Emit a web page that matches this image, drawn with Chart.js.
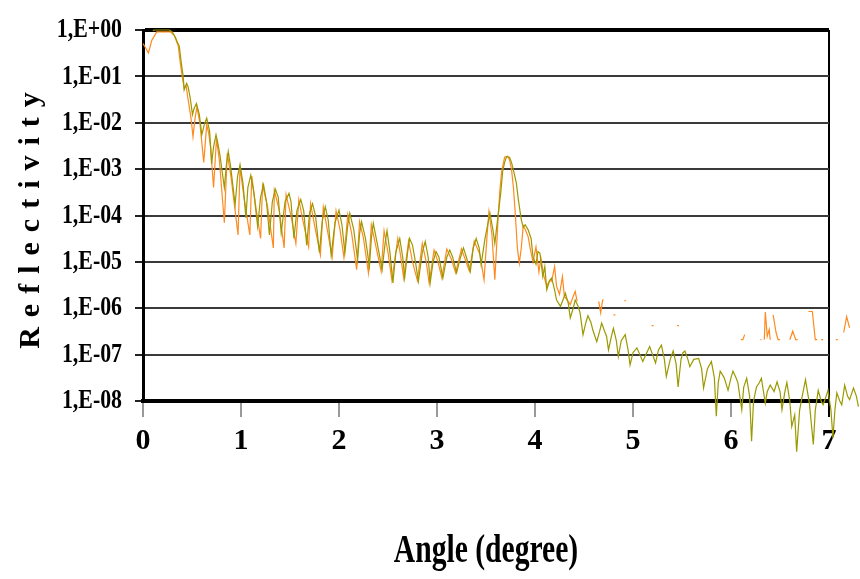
<!DOCTYPE html>
<html>
<head>
<meta charset="utf-8">
<title>Reflectivity vs angle</title>
<script src="https://cdn.jsdelivr.net/npm/chart.js@4/dist/chart.umd.min.js"></script>
<style>
  html, body { margin: 0; padding: 0; background: #fff; }
  #chart { display: block; }
</style>
</head>
<body>
<canvas id="chart" width="860" height="579"></canvas>
<script>
// --- Data ---

// Olive curve (drawn on top)
const oliveAngle = [
    0.10, 0.12, 0.27, 0.30, 0.33, 0.35, 0.37, 0.39,
    0.41, 0.42, 0.445, 0.46, 0.48, 0.505, 0.52, 0.545,
    0.575, 0.60, 0.625, 0.65, 0.68, 0.70, 0.72, 0.745,
    0.765, 0.785, 0.83, 0.85, 0.87, 0.895, 0.94, 0.965,
    0.99, 1.02, 1.05, 1.07, 1.10, 1.13, 1.17, 1.20,
    1.23, 1.26, 1.29, 1.32, 1.35, 1.38, 1.41, 1.45,
    1.49, 1.51, 1.54, 1.57, 1.61, 1.64, 1.67, 1.70,
    1.73, 1.76, 1.80, 1.83, 1.86, 1.89, 1.92, 1.96,
    2.00, 2.03, 2.06, 2.09, 2.11, 2.15, 2.19, 2.21,
    2.23, 2.27, 2.31, 2.33, 2.35, 2.39, 2.44, 2.47,
    2.49, 2.52, 2.55, 2.58, 2.62, 2.65, 2.67, 2.70,
    2.72, 2.75, 2.78, 2.81, 2.85, 2.88, 2.91, 2.93,
    2.96, 2.99, 3.02, 3.06, 3.10, 3.13, 3.16, 3.20,
    3.24, 3.27, 3.30, 3.34, 3.37, 3.40, 3.43, 3.45,
    3.49, 3.54, 3.57, 3.59, 3.62, 3.65, 3.67, 3.69,
    3.71, 3.74, 3.76, 3.78, 3.81, 3.83, 3.86, 3.88,
    3.90, 3.93, 3.96, 3.98, 4.01, 4.03, 4.05, 4.08,
    4.10, 4.12, 4.15, 4.17, 4.20, 4.22, 4.26, 4.29,
    4.31, 4.34, 4.36, 4.39, 4.41, 4.44, 4.46, 4.49,
    4.52, 4.54, 4.57, 4.59, 4.63, 4.66, 4.68, 4.71,
    4.73, 4.75, 4.78, 4.80, 4.83, 4.85, 4.88, 4.92,
    4.95, 4.97, 5.00, 5.04, 5.07, 5.10, 5.14, 5.17,
    5.20, 5.23, 5.26, 5.29, 5.32, 5.34, 5.38, 5.41,
    5.44, 5.46, 5.49, 5.51, 5.53, 5.56, 5.58, 5.62,
    5.67, 5.70, 5.72, 5.76, 5.80, 5.83, 5.85, 5.87,
    5.89, 5.93, 5.97, 6.00, 6.02, 6.05, 6.07, 6.11,
    6.13, 6.16, 6.19, 6.21, 6.23, 6.26, 6.29, 6.31,
    6.35, 6.37, 6.40, 6.44, 6.47, 6.50, 6.52, 6.55,
    6.57, 6.60, 6.62, 6.65, 6.67, 6.70, 6.72, 6.76,
    6.78, 6.80, 6.82, 6.84, 6.86, 6.89, 6.92, 6.94,
    6.97, 6.99, 7.02, 7.04, 7.06, 7.08, 7.11, 7.13,
    7.16, 7.19, 7.21, 7.25, 7.28, 7.30,
];
const oliveRefl = [
    0.97, 1.0, 1.0, 0.9, 0.7, 0.55, 0.45, 0.2,
    0.1, 0.051, 0.071, 0.06, 0.036, 0.015, 0.02, 0.026,
    0.015, 0.0055, 0.009, 0.0126, 0.0065, 0.0013, 0.003, 0.0055,
    0.0035, 0.002, 4e-4, 1.2e-3, 2.4e-3, 1.1e-3, 1.7e-4, 7e-4,
    1.26e-3, 5e-4, 9e-5, 4e-4, 7.4e-4, 3.2e-4, 5.8e-5, 2.5e-4,
    4.6e-4, 2e-4, 3.8e-5, 2e-4, 3.7e-4, 2.5e-4, 4.2e-5, 2e-4,
    3e-4, 2e-4, 3.2e-5, 1.26e-4, 2.2e-4, 1.26e-4, 2.3e-5, 1.12e-4,
    1.8e-4, 1e-4, 1.6e-5, 7.9e-5, 1.55e-4, 7.9e-5, 1.4e-5, 7.1e-5,
    1.3e-4, 6.3e-5, 1.55e-5, 6.3e-5, 1.12e-4, 5e-5, 1.1e-5, 4e-5,
    7.4e-5, 3.2e-5, 7.9e-6, 3.2e-5, 6.8e-5, 2.5e-5, 6.8e-6, 2.5e-5,
    4.7e-5, 1.6e-5, 3.5e-6, 1.6e-5, 3.2e-5, 1.26e-5, 4.5e-6, 1.6e-5,
    3.2e-5, 2.3e-5, 1e-5, 3.8e-6, 1.6e-5, 2.75e-5, 1.26e-5, 3.5e-6,
    1e-5, 1.66e-5, 1.26e-5, 4.5e-6, 1.26e-5, 1.8e-5, 1.26e-5, 5.8e-6,
    1.26e-5, 2e-5, 1.26e-5, 6.2e-6, 2e-5, 3.2e-5, 2e-5, 8.7e-6,
    3.2e-5, 1.12e-4, 5e-5, 2.5e-5, 8.9e-5, 3e-4, 8.9e-4, 1.4e-3,
    1.86e-3, 1.8e-3, 1.4e-3, 9.5e-4, 5e-4, 2.2e-4, 8.1e-5, 5.6e-5,
    6.3e-5, 4.9e-5, 3.2e-5, 1.26e-5, 8.9e-6, 1.66e-5, 1.55e-5, 4.8e-6,
    7.9e-6, 2.5e-6, 4e-6, 4.5e-6, 2.5e-6, 1.5e-6, 1.1e-6, 1.6e-6,
    2.1e-6, 1.26e-6, 6.2e-7, 1e-6, 1.5e-6, 1.1e-6, 7.9e-7, 2.7e-7,
    5e-7, 6.9e-7, 5e-7, 3.4e-7, 1.9e-7, 3.2e-7, 4.8e-7, 3.2e-7,
    2.5e-7, 1.26e-7, 2.5e-7, 3.7e-7, 2e-7, 9.1e-8, 2e-7, 2.7e-7,
    1.26e-7, 6e-8, 1.1e-7, 1.4e-7, 1e-7, 7.1e-8, 1.1e-7, 1.5e-7,
    1e-7, 6.6e-8, 1.26e-7, 1.6e-7, 7.9e-8, 3.4e-8, 7.9e-8, 1.2e-7,
    6.3e-8, 2e-8, 7.9e-8, 1.1e-7, 1.2e-7, 7.9e-8, 5.5e-8, 7.9e-8,
    8.3e-8, 5e-8, 1.9e-8, 5e-8, 7.1e-8, 3.2e-8, 4.7e-9, 2.5e-8,
    4.4e-8, 3.2e-8, 1.7e-8, 3.2e-8, 4.4e-8, 3.2e-8, 2.5e-8, 6.5e-9,
    2e-8, 3.1e-8, 1.26e-8, 1.35e-9, 1e-8, 2e-8, 2.5e-8, 3.1e-8,
    8.9e-9, 1.6e-8, 2.2e-8, 1.6e-8, 2.6e-8, 1.6e-8, 6.5e-9, 1.6e-8,
    2.5e-8, 1e-8, 2.8e-9, 5e-9, 8.1e-10, 6.3e-9, 1.07e-8, 2.9e-8,
    1.6e-8, 8.9e-9, 3.2e-9, 1.15e-9, 6.3e-9, 1.7e-8, 1e-8, 8.3e-9,
    1.26e-8, 1.7e-8, 6.3e-9, 1.6e-9, 6.3e-9, 1.5e-8, 1e-8, 8.3e-9,
    2.2e-8, 1.26e-8, 1.07e-8, 1.9e-8, 1.26e-8, 7.6e-9,
];

// Orange curve (underneath, broken up at high angles)
const orangeAngle = [
    0.00, 0.03, 0.055, 0.09, 0.14, 0.28, 0.32, 0.36,
    0.38, 0.40, 0.42, 0.44, 0.46, 0.49, 0.51, 0.53,
    0.55, 0.58, 0.62, 0.65, 0.67, 0.69, 0.72, 0.75,
    0.78, 0.83, 0.86, 0.90, 0.97, 0.99, 1.03, 1.09,
    1.11, 1.15, 1.20, 1.22, 1.27, 1.33, 1.34, 1.39,
    1.44, 1.46, 1.51, 1.56, 1.59, 1.63, 1.69, 1.71,
    1.75, 1.81, 1.84, 1.88, 1.93, 1.97, 2.01, 2.05,
    2.09, 2.13, 2.18, 2.21, 2.25, 2.30, 2.33, 2.37,
    2.43, 2.46, 2.50, 2.54, 2.60, 2.63, 2.66, 2.71,
    2.75, 2.80, 2.85, 2.89, 2.92, 2.97, 3.01, 3.05,
    3.10, 3.15, 3.19, 3.25, 3.29, 3.33, 3.38, 3.44,
    3.48, 3.51, 3.53, 3.56, 3.59, 3.62, 3.64, 3.66,
    3.69, 3.72, 3.74, 3.76, 3.78, 3.80, 3.82, 3.84,
    3.86, 3.88, 3.90, 3.93, 3.95, 3.98, 4.01, 4.04,
    4.06, 4.09, 4.12, 4.15, 4.17, 4.20, 4.22, 4.25,
    4.28, 4.30, 4.33, 4.36, 4.39, 4.41, 4.43, 4.45,
    4.65, 4.67, 4.69, 4.70, 4.71, 4.80, 4.82, 4.83,
    4.91, 4.93, 4.94, 5.19, 5.21, 5.22, 5.45, 5.47,
    5.48, 6.10, 6.12, 6.14, 6.15, 6.30, 6.31, 6.32,
    6.34, 6.35, 6.37, 6.39, 6.40, 6.41, 6.43, 6.46,
    6.48, 6.50, 6.51, 6.60, 6.63, 6.66, 6.68, 6.69,
    6.79, 6.83, 6.86, 6.88, 6.89, 6.92, 6.94, 6.95,
    7.07, 7.09, 7.10, 7.15, 7.18, 7.21,
];
const orangeRefl = [
    0.51, 0.4, 0.32, 0.6, 0.91, 0.91, 0.76, 0.45,
    0.2, 0.1, 0.056, 0.063, 0.032, 0.0126, 0.005, 0.012,
    0.022, 0.01, 0.0014, 0.009, 0.006, 0.003, 4e-4, 4.5e-3,
    1.5e-3, 7e-5, 2.2e-3, 6.3e-4, 3.8e-5, 1.1e-3, 2.5e-4, 3.8e-5,
    7.1e-4, 1.6e-4, 3.2e-5, 4.5e-4, 1.6e-4, 2e-5, 3.5e-4, 1.3e-4,
    2e-5, 2.8e-4, 1e-4, 2.5e-5, 2.2e-4, 8e-5, 2.1e-5, 1.8e-4,
    6.3e-5, 1.4e-5, 1.5e-4, 5e-5, 1.26e-5, 1.26e-4, 5e-5, 1.26e-5,
    1.05e-4, 4e-5, 6.8e-6, 7.4e-5, 3.2e-5, 5.8e-6, 6.3e-5, 2.5e-5,
    6.3e-6, 4.7e-5, 1.6e-5, 4e-6, 3.2e-5, 1.3e-5, 4.5e-6, 2.8e-5,
    1e-5, 4e-6, 2.5e-5, 1e-5, 3.5e-6, 1.8e-5, 1e-5, 4.5e-6,
    1.9e-5, 1.1e-5, 5.8e-6, 1.9e-5, 1.1e-5, 6.3e-6, 2.8e-5, 1.4e-5,
    4.1e-6, 3.5e-5, 1.2e-4, 4e-5, 4.1e-6, 6.3e-5, 3.2e-4, 9e-4,
    1.8e-3, 1.9e-3, 1.6e-3, 1e-3, 4e-4, 1e-4, 2e-5, 9.3e-6,
    2e-5, 6e-5, 5e-5, 3.5e-5, 2e-5, 1e-5, 2.1e-5, 6e-6,
    1.2e-5, 5e-6, 3e-6, 4e-6, 3.8e-6, 7.9e-6, 3e-6, 2e-6,
    4.8e-6, 1.8e-6, 1.5e-6, 1.2e-6, 1.8e-6, 2.3e-6, 1.4e-6, null,
    1.4e-6, 8e-7, 1.5e-6, 1.5e-6, null, 7.2e-7, 7.2e-7, null,
    1.45e-6, 1.45e-6, null, 4.2e-7, 4.2e-7, null, 4.2e-7, 4.2e-7,
    null, 2.1e-7, 2.1e-7, 2.7e-7, null, 2.1e-7, 2.1e-7, null,
    2.1e-7, 8.3e-7, 2.5e-7, 3.5e-7, 2.1e-7, null, 7.2e-7, 3e-7,
    2.1e-7, 2.1e-7, null, 2.1e-7, 3.2e-7, 2.1e-7, 2.1e-7, null,
    8.5e-7, 8.5e-7, 2.1e-7, 2.1e-7, null, 2.1e-7, 2.1e-7, null,
    2.1e-7, 2.1e-7, null, 3e-7, 6.6e-7, 3.8e-7,
];

const angleTicks = [0, 1, 2, 3, 4, 5, 6, 7];
const reflTicks = [1e-8, 1e-7, 1e-6, 1e-5, 1e-4, 1e-3, 1e-2, 1e-1, 1];
const reflTickLabels = ["1,E-08", "1,E-07", "1,E-06", "1,E-05", "1,E-04",
                        "1,E-03", "1,E-02", "1,E-01", "1,E+00"];

const OLIVE = "#9a9a00";
const ORANGE = "#ff8a1f";
const SERIF = '"Liberation Serif", "Times New Roman", Times, serif';

function toPoints(xs, ys) {
    return xs.map((x, i) => ({ x: x, y: ys[i] }));
}

// Wrap one draw method of a scale with a canvas tweak (squeeze / letter spacing).
function wrapDraw(scale, name, prep) {
    const orig = scale[name];
    scale[name] = function () {
        this.ctx.save();
        prep(this, this.ctx);
        orig.apply(this, arguments);
        this.ctx.restore();
    };
}

// The reference text is narrow (squeezed horizontally) and the y title is letter-spaced.
const textTweaks = {
    id: "textTweaks",
    beforeDraw(chart) {
        if (chart._tweaked) return;
        const x = chart.scales.x, y = chart.scales.y;
        wrapDraw(y, "drawTitle", (s, ctx) => { ctx.letterSpacing = "10px"; });
        wrapDraw(y, "drawLabels", (s, ctx) => {
            const rx = s.right - 21;
            ctx.translate(rx, 0); ctx.scale(0.78, 1); ctx.translate(-rx, 0);
        });
        wrapDraw(x, "drawTitle", (s, ctx) => {
            const cx = (s.left + s.right) / 2;
            ctx.translate(cx, 0); ctx.scale(0.74, 1); ctx.translate(-cx, 0);
        });
        chart._tweaked = true;
    },
};

new Chart(document.getElementById("chart").getContext("2d"), {
    type: "line",
    data: {
        datasets: [
            {
                label: "olive",
                data: toPoints(oliveAngle, oliveRefl),
                borderColor: OLIVE,
                borderWidth: 1.2,
                clip: false,
                order: 0,
            },
            {
                label: "orange",
                data: toPoints(orangeAngle, orangeRefl),
                borderColor: ORANGE,
                borderWidth: 1.2,
                clip: false,
                order: 1,
            },
        ],
    },
    options: {
        responsive: false,
        animation: false,
        events: [],
        layout: { padding: { top: 30, right: 31, left: 0, bottom: 0 } },
        elements: {
            point: { radius: 0 },
            line: { tension: 0, fill: false },
        },
        spanGaps: false,
        plugins: {
            legend: { display: false },
            tooltip: { enabled: false },
        },
        scales: {
            x: {
                type: "linear",
                // bounds set after tick building, so the line controller keeps
                // the points beyond 7 (the reference draws them past the frame)
                afterBuildTicks: (s) => {
                    s.min = 0;
                    s.max = 7;
                    s.ticks = angleTicks.map(v => ({ value: v }));
                },
                afterFit: (s) => { s.height = 178; },
                ticks: {
                    color: "#000",
                    padding: 6,
                    maxRotation: 0,
                    font: { family: SERIF, weight: "bold", size: 30 },
                },
                grid: {
                    drawOnChartArea: true,
                    color: (c) => (c.tick && c.tick.value === 7 ? "#000" : "rgba(0,0,0,0)"),
                    lineWidth: 2,
                    tickColor: (c) => (c.tick && c.tick.value === 7 ? "#000" : "#999"),
                    tickWidth: 2,
                    tickLength: 16,
                },
                border: { display: true, color: "#000", width: 4 },
                title: {
                    display: true,
                    text: "Angle (degree)",
                    color: "#000",
                    font: { family: SERIF, weight: "bold", size: 40 },
                    padding: { top: 0, bottom: 3 },
                },
            },
            y: {
                type: "logarithmic",
                min: 1e-8,
                max: 1,
                afterBuildTicks: (s) => { s.ticks = reflTicks.map(v => ({ value: v })); },
                afterFit: (s) => { s.width = 143; },
                ticks: {
                    color: "#000",
                    padding: 13,
                    autoSkip: false,
                    font: { family: SERIF, weight: "bold", size: 28 },
                    callback: (v, i) => reflTickLabels[i],
                },
                grid: {
                    color: (c) => (c.tick && c.tick.value === 1 ? "#000" : "#3a3a3a"),
                    lineWidth: (c) => (c.tick && c.tick.value === 1 ? 4 : 2),
                    tickColor: "#222",
                    tickWidth: 2,
                    tickLength: 8,
                },
                border: { display: true, color: "#000", width: 3 },
                title: {
                    display: true,
                    text: "Reflectivity",
                    color: "#000",
                    font: { family: SERIF, weight: "bold", size: 30 },
                    padding: { top: 13, bottom: 0 },
                },
            },
        },
    },
    plugins: [textTweaks],
});
</script>
</body>
</html>
